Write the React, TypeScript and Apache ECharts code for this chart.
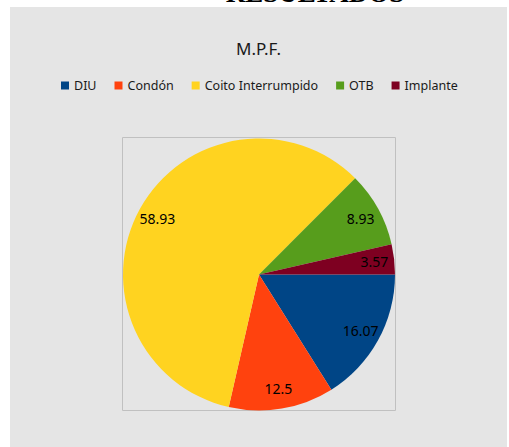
import React, { useEffect, useRef } from "react";
import * as echarts from "echarts";

const categories = ["DIU", "Condón", "Coito Interrumpido", "OTB", "Implante"];
const values = [16.07, 12.5, 58.93, 8.93, 3.57];
const colors = ["#004586", "#ff420e", "#ffd320", "#579d1c", "#7e0021"];
const chartTitle = "M.P.F.";
const headerText = "RESULTADOS";

const FONT = "'Noto Sans', 'Open Sans', sans-serif";

export default function App() {
  const ref = useRef<HTMLDivElement>(null);
  useEffect(() => {
    if (!ref.current) return;
    const chart = echarts.init(ref.current, undefined, { renderer: "svg" });
    const data = categories.map((name, i) => ({
      name,
      value: values[i],
      itemStyle: { color: colors[i] },
    }));
    const cx = 259;
    const cy = 274.5;
    const R = 136;
    chart.setOption({
      animation: false,
      backgroundColor: "#ffffff",
      graphic: [
        {
          type: "rect",
          z: -10,
          shape: { x: 10, y: 7, width: 497, height: 445 },
          style: { fill: "#e5e5e5" },
          silent: true,
        },
        {
          type: "rect",
          z: -9,
          shape: { x: 122.5, y: 137.5, width: 273, height: 273 },
          style: { fill: "none", stroke: "#c0c0c0", lineWidth: 1 },
          silent: true,
        },
        {
          type: "text",
          z: -11,
          x: 315,
          y: -7,
          style: {
            text: headerText,
            font: "bold 27px 'Liberation Serif', 'DejaVu Serif', serif",
            fill: "#000000",
            textAlign: "center",
            textVerticalAlign: "middle",
          },
          silent: true,
        },
        {
          type: "text",
          x: 258.5,
          y: 48,
          style: {
            text: chartTitle,
            font: "17px " + FONT,
            fill: "#1a1a1a",
            textAlign: "center",
            textVerticalAlign: "middle",
          },
          silent: true,
        },
      ],
      legend: {
        data: categories,
        left: 56,
        top: 72.5,
        itemWidth: 8,
        itemHeight: 8,
        itemGap: 18,
        icon: "rect",
        textStyle: {
          fontFamily: FONT,
          fontSize: 12.5,
          color: "#1a1a1a",
          lineHeight: 16,
        },
        selectedMode: false,
      },
      series: [
        {
          type: "pie",
          center: [cx, cy],
          radius: [0, R],
          startAngle: 0,
          clockwise: true,
          data,
          label: { show: false },
          labelLine: { show: false },
          itemStyle: { borderWidth: 0 },
          emphasis: { disabled: true },
          silent: true,
        },
        {
          type: "pie",
          center: [cx, cy],
          radius: [90, R],
          startAngle: 0,
          clockwise: true,
          data: categories.map((name, i) => ({
            name,
            value: values[i],
            itemStyle: { color: "rgba(0,0,0,0)" },
          })),
          label: {
            show: true,
            position: "inside",
            formatter: "{c}",
            fontFamily: FONT,
            fontSize: 14,
            color: "#000000",
          },
          labelLine: { show: false },
          itemStyle: { borderWidth: 0 },
          emphasis: { disabled: true },
          silent: true,
          z: 3,
        },
      ],
    });
    return () => chart.dispose();
  }, []);
  return (
    <div
      ref={ref}
      style={{ position: "fixed", left: 0, top: 0, width: 509, height: 447 }}
    />
  );
}
